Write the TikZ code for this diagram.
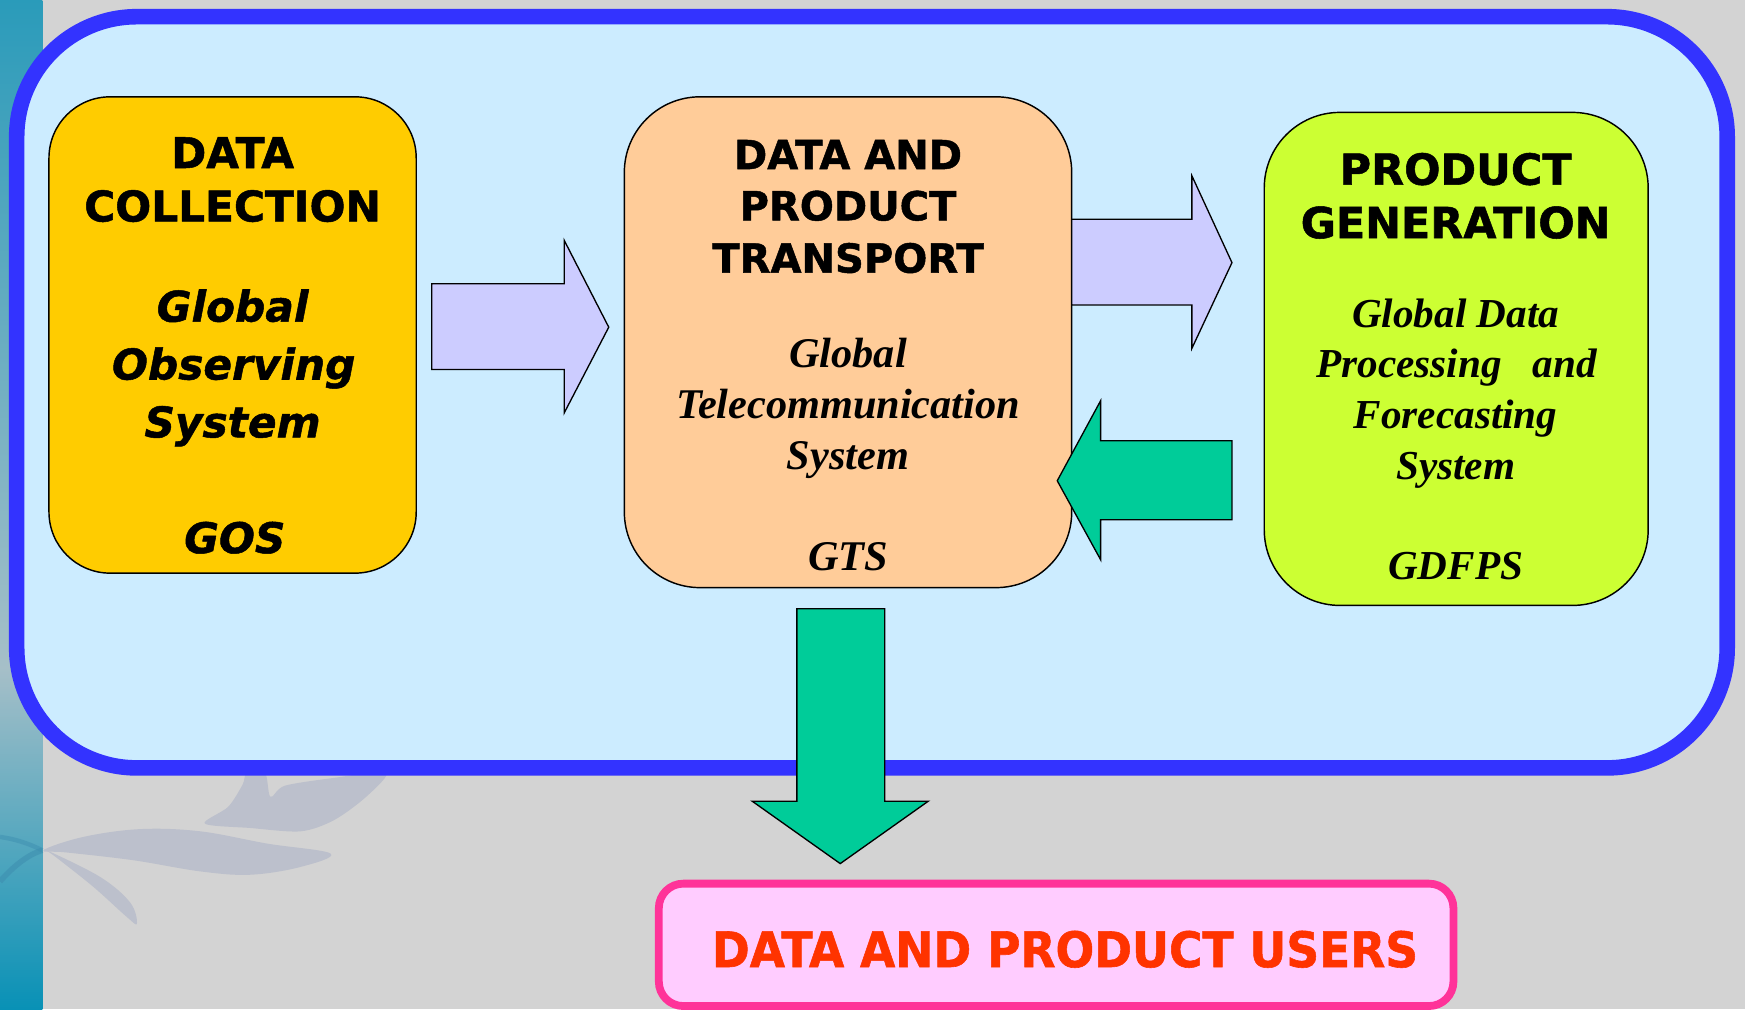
\documentclass[tikz,border=0pt]{standalone}
\usepackage{fontspec}
\setmainfont{Liberation Serif}
\newfontfamily\vfont[BoldFeatures={FakeBold=1.2},BoldItalicFeatures={FakeBold=1.2}]{DejaVu Sans}
\definecolor{bggray}{HTML}{D3D3D3}
\definecolor{lightblue}{HTML}{CCECFF}
\definecolor{blueb}{HTML}{3333FF}
\definecolor{yellowb}{HTML}{FFCC00}
\definecolor{peach}{HTML}{FFCC99}
\definecolor{lime}{HTML}{CCFF33}
\definecolor{lavender}{HTML}{CCCCFF}
\definecolor{greenar}{HTML}{00CC99}
\definecolor{pinkfill}{HTML}{FFCCFF}
\definecolor{pinkb}{HTML}{FF3399}
\definecolor{redtext}{HTML}{FF3300}
\definecolor{leafc}{HTML}{BCC0CC}
\definecolor{stripA}{HTML}{2A9BBA}
\definecolor{stripB}{HTML}{A6BFC8}
\definecolor{stripC}{HTML}{0891B6}
\definecolor{leafteal}{HTML}{3E8FB0}
\begin{document}
\begin{tikzpicture}[x=1pt,y=-1pt,
  box/.style={draw=black, line width=1.3pt, inner sep=0pt},
  blockarrow/.style={draw=black, line width=1.2pt, line join=miter},
  hdl/.style={font=\vfont\bfseries\fontsize{38}{38}\selectfont, inner sep=0pt, anchor=base},
  hdm/.style={font=\vfont\bfseries\fontsize{36}{36}\selectfont, inner sep=0pt, anchor=base},
  hdr/.style={font=\vfont\bfseries\fontsize{38.5}{38.5}\selectfont, inner sep=0pt, anchor=base},
  hdit/.style={font=\vfont\bfseries\itshape\fontsize{38}{38}\selectfont, inner sep=0pt, anchor=base},
  srf/.style={font=\bfseries\itshape\fontsize{38}{38}\selectfont, inner sep=0pt, anchor=base},
  srfr/.style={font=\bfseries\itshape\fontsize{37}{37}\selectfont, inner sep=0pt, anchor=base}]
\useasboundingbox (0,0) rectangle (1568,907);
% background
\fill[bggray] (0,0) rectangle (1568,907);
\shade[top color=stripA, bottom color=stripB] (0,0) rectangle (38,600);
\shade[top color=stripB, bottom color=stripC] (0,600) rectangle (38,907.5);
\draw[leafteal, line width=5pt, opacity=0.6] (0,792) .. controls (15,775) and (28,767) .. (38,764);
\draw[leafteal, line width=4pt, opacity=0.5] (0,752) .. controls (14,754) and (26,758) .. (38,764);
% leaf watermark
\fill[leafc] plot[smooth cycle, tension=0.5] coordinates {(184,740) (205,725) (218,705) (222,694) (238,694) (243,716) (256,706) (300,699) (347,694) (329,716) (300,737) (270,747) (225,744)};
\fill[leafc] plot[smooth cycle, tension=0.6] coordinates {(39,764) (75,752) (126,745) (180,747) (240,758) (297,767) (270,779) (225,786) (180,783) (120,773) (60,766)};
\fill[leafc] plot[smooth cycle, tension=0.6] coordinates {(42,764) (90,788) (117,811) (123,830) (114,824) (84,797) (50,770)};
% main frame
\node[name=main, draw=blueb, line width=14pt, fill=lightblue, rounded corners=108pt,
  minimum width=1537pt, minimum height=675pt, inner sep=0pt] at (783.5,352.5) {};
% boxes
\node[name=gos, box, fill=yellowb, rounded corners=55pt, minimum width=330pt, minimum height=428pt] at (209,301) {};
\node[name=gts, box, fill=peach, rounded corners=68pt, minimum width=402pt, minimum height=441pt] at (762,307.5) {};
\node[name=gdfps, box, fill=lime, rounded corners=68pt, minimum width=345pt, minimum height=443pt] at (1308.5,322.5) {};
% texts GOS
\node[name=t1, hdl] at (209,151) {DATA};
\node[name=t2, hdl] at (209,199) {COLLECTION};
\node[name=t3, hdit] at (209,289) {Global};
\node[name=t4, hdit] at (210,341) {Observing};
\node[name=t5, hdit] at (209,393) {System};
\node[name=t6, hdit] at (211,497) {GOS};
% texts GTS
\node[name=m1, hdm] at (762,152) {DATA AND};
\node[name=m2, hdm] at (762,198) {PRODUCT};
\node[name=m3, hdm] at (762,245) {TRANSPORT};
\node[name=m4, srf] at (762,330) {Global};
\node[name=m5, srf] at (762,376) {Telecommunication};
\node[name=m6, srf] at (762,422) {System};
\node[name=m7, srf] at (762,513) {GTS};
% texts GDFPS
\node[name=r1, hdr] at (1308,166) {PRODUCT};
\node[name=r2, hdr] at (1308,214) {GENERATION};
\node[name=r3, srfr] at (1308,294) {Global Data};
\node[name=r4, srfr] at (1309,339) {Processing\hspace{28pt}and};
\node[name=r5, srfr] at (1308,385) {Forecasting};
\node[name=r6, srfr] at (1308,431) {System};
\node[name=r7, srfr] at (1308,521) {GDFPS};
% block arrows
\draw[blockarrow, fill=lavender] (388,255) -- (507,255) -- (507,216) -- (547,294) -- (507,371) -- (507,332) -- (388,332) -- cycle;
\draw[blockarrow, fill=lavender] (963,197) -- (1071,197) -- (1071,158) -- (1107,236) -- (1071,313) -- (1071,274) -- (963,274) -- cycle;
\draw[blockarrow, fill=greenar] (1107,396) -- (989,396) -- (989,360) -- (950,432) -- (989,503) -- (989,467) -- (1107,467) -- cycle;
\draw[blockarrow, fill=greenar] (716,547) -- (795,547) -- (795,720) -- (834,720) -- (755,776) -- (676,720) -- (716,720) -- cycle;
% users box
\node[name=users, draw=pinkb, line width=7pt, fill=pinkfill, rounded corners=22pt,
  minimum width=714pt, minimum height=110pt, inner sep=0pt] at (949,849) {};
\node[name=userstext, inner sep=0pt, anchor=base, text=redtext, font=\vfont\bfseries\fontsize{44}{44}\selectfont] at (957,869) {\scalebox{0.93}[1]{DATA AND PRODUCT USERS}};
\end{tikzpicture}
\end{document}
